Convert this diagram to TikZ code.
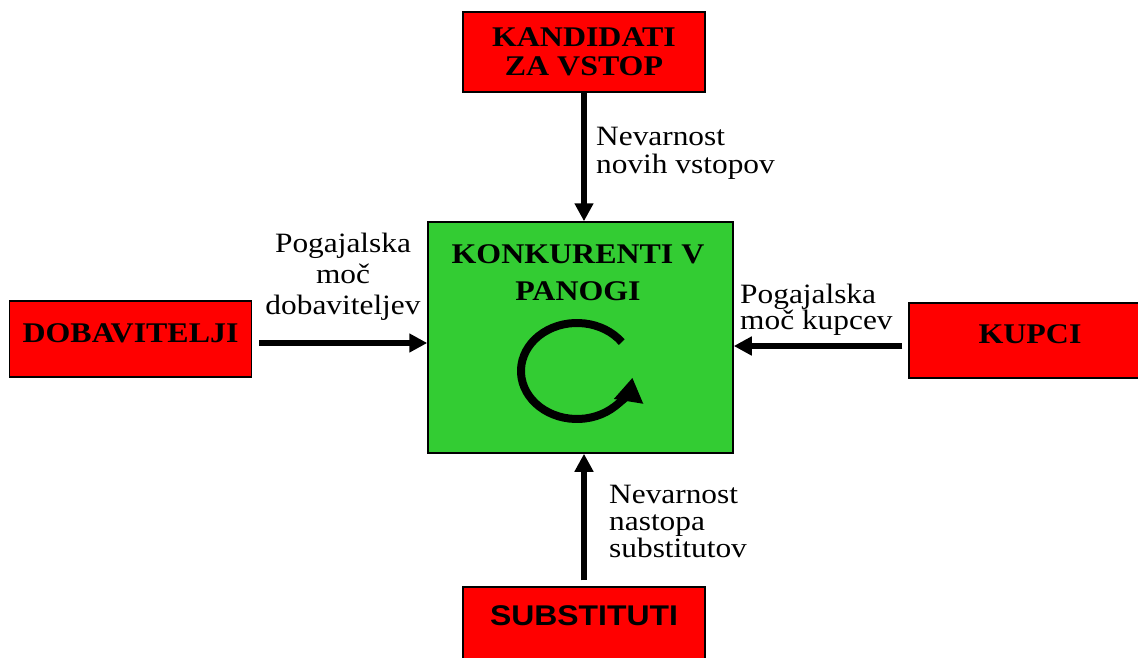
\documentclass[tikz,border=0pt]{standalone}
\usepackage{fontspec}
\setmainfont{Liberation Serif}[FakeStretch=1.12]
\setsansfont{Liberation Sans}[FakeStretch=1.12]
\usetikzlibrary{arrows.meta,positioning,calc}
\definecolor{forcered}{RGB}{255,0,0}
\definecolor{rivalgreen}{RGB}{51,204,51}

\begin{document}
\begin{tikzpicture}[x=1pt, y=-1pt,
    force/.style={rectangle, draw=black, line width=1.5pt, fill=forcered,
                  minimum width=242pt, minimum height=78pt, inner sep=0pt,
                  align=center, font=\fontsize{28.5}{29}\selectfont\bfseries},
    note/.style={inner sep=0pt, font=\fontsize{28}{28}\selectfont},
    arrow/.style={-{Triangle[width=18pt,length=18pt]}, line width=5.5pt}
]
\useasboundingbox (0,0) rectangle (1138,657);

% Konkurenti v panogi
\node[rectangle, draw=black, line width=1.5pt, fill=rivalgreen,
      minimum width=305pt, minimum height=231pt] (rivals) at (580.5,337.5) {};
\node[note, font=\fontsize{28.5}{29}\selectfont\bfseries, align=center, anchor=base]
    (rivaltitle) at (578,300) {KONKURENTI V\\[8pt]PANOGI};

% Krog
\coordinate (cyclestart) at (621.7,342.1);
\draw[line width=8pt, -{Triangle[width=28pt,length=24pt]}] (cyclestart)
    arc[start angle=-37, end angle=-352, x radius=56, y radius=48];

% Kandidati za vstop
\node[force, minimum height=80pt] (entrants) at (584,52) {KANDIDATI\\ZA VSTOP};

% Dobavitelji
\node[force, minimum height=76pt, text height=20pt, text depth=14pt]
    (suppliers) at (130.5,339) {DOBAVITELJI};

% Kupci
\node[force, minimum height=75pt, text height=20pt, text depth=15pt]
    (buyers) at (1030,340.5) {KUPCI};

% Substituti
\node[force, minimum height=80pt, text height=20pt, text depth=24pt,
      font=\fontsize{28.5}{29}\selectfont\sffamily\bfseries]
    (substitutes) at (584,627) {SUBSTITUTI};

% Arrows
\draw[arrow] (entrants.south) -- (entrants.south |- rivals.north);
\draw[arrow, shorten <=6pt] (substitutes.north) -- (substitutes.north |- rivals.south);
\draw[arrow, shorten <=7pt] ([yshift=-4pt]suppliers.east) -- ([yshift=-4pt]suppliers.east -| rivals.west);
\draw[arrow, shorten <=6pt] ([yshift=-5.5pt]buyers.west) -- ([yshift=-5.5pt]buyers.west -| rivals.east);

% Labels
\node[note, align=left, anchor=base west] (threatnew) at (596,173)
    {Nevarnost\\novih vstopov};
\node[note, align=center, anchor=base] (supplierpower) at (343,314)
    {Pogajalska\\[3pt]moč\\[3pt]dobaviteljev};
\node[note, align=left, anchor=base west] (buyerpower) at (740,329)
    {Pogajalska\\[-2pt]moč kupcev};
\node[note, align=left, anchor=base west] (threatsubs) at (609,557)
    {Nevarnost\\[-1pt]nastopa\\[-1pt]substitutov};

\end{tikzpicture}
\end{document}
